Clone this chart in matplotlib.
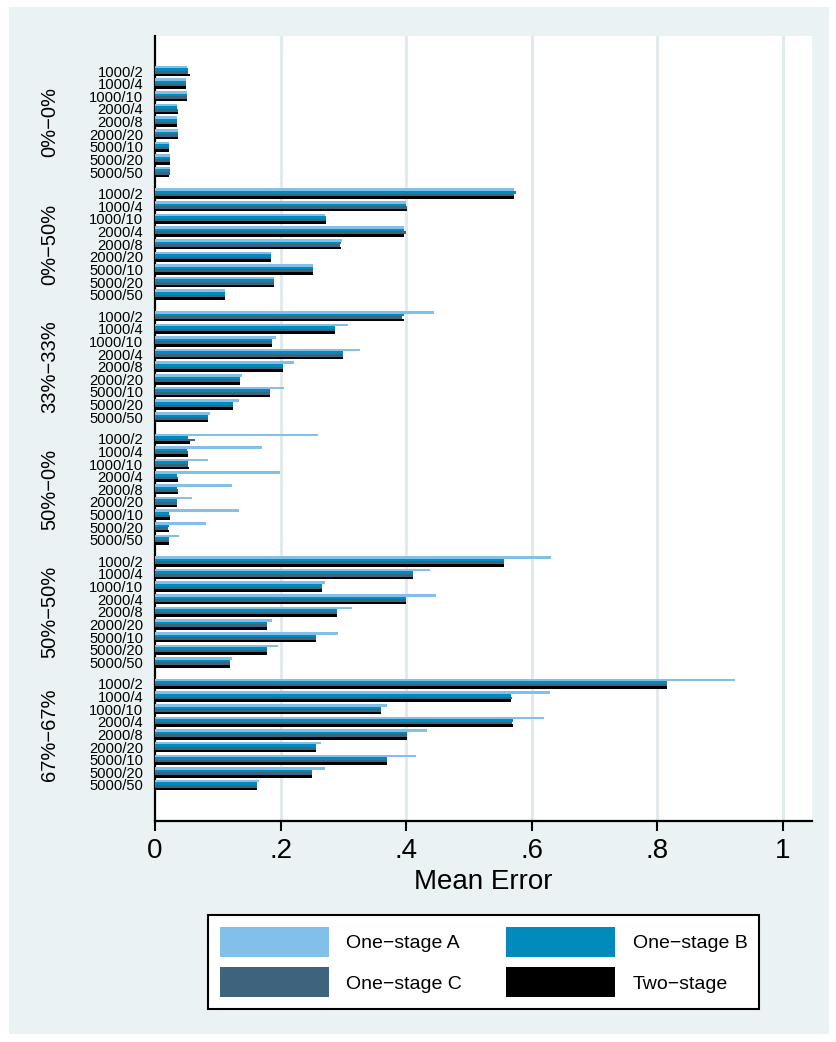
import numpy as np
import matplotlib.pyplot as plt
from matplotlib.patches import Rectangle, Patch
from matplotlib.transforms import blended_transform_factory

plt.rcParams['font.family'] = ['Liberation Sans', 'DejaVu Sans']

# data
groups = ['0%\u22120%', '0%\u221250%', '33%\u221233%', '50%\u22120%', '50%\u221250%', '67%\u221267%']
cats = ['1000/2', '1000/4', '1000/10', '2000/4', '2000/8', '2000/20', '5000/10', '5000/20', '5000/50']
series = ['One\u2212stage A', 'One\u2212stage B', 'One\u2212stage C', 'Two\u2212stage']

one_a = [[.051, .049, .051, .035, .035, .036, .022, .024, .024],
         [.572, .400, .271, .397, .297, .184, .251, .189, .112],
         [.444, .308, .192, .326, .222, .138, .205, .133, .087],
         [.259, .170, .084, .199, .122, .059, .133, .081, .038],
         [.631, .438, .271, .448, .313, .186, .292, .196, .122],
         [.924, .629, .369, .619, .433, .265, .415, .271, .165]]
one_b = [[.052, .049, .051, .035, .035, .036, .022, .024, .024],
         [.575, .400, .272, .397, .296, .184, .251, .189, .112],
         [.396, .286, .186, .299, .203, .136, .183, .124, .084],
         [.052, .051, .052, .035, .035, .035, .022, .022, .022],
         [.556, .410, .266, .400, .290, .178, .256, .178, .119],
         [.815, .567, .360, .570, .401, .256, .369, .250, .163]]
one_c = [[.052, .049, .051, .036, .035, .036, .022, .024, .024],
         [.572, .402, .272, .400, .294, .184, .252, .189, .112],
         [.393, .286, .186, .299, .203, .136, .183, .124, .084],
         [.063, .052, .052, .036, .036, .035, .024, .021, .022],
         [.555, .410, .266, .400, .290, .178, .256, .178, .119],
         [.815, .568, .360, .568, .401, .256, .369, .250, .163]]
two_stage = [[.055, .049, .051, .036, .035, .036, .022, .024, .023],
             [.572, .402, .272, .397, .296, .184, .251, .189, .112],
             [.396, .286, .186, .299, .203, .136, .183, .124, .084],
             [.056, .052, .054, .036, .036, .035, .024, .022, .022],
             [.555, .410, .266, .400, .290, .178, .256, .178, .119],
             [.815, .567, .360, .570, .401, .256, .369, .250, .163]]

colors = ['#82C0E9', '#008BBC', '#3E647D', '#000000']
bg = '#EAF2F3'

fig = plt.figure(figsize=(8.37, 10.42), dpi=100, facecolor='white')
fig.patches.append(Rectangle((9 / 837, 8 / 1042), 820 / 837, 1027 / 1042,
                             transform=fig.transFigure, facecolor=bg,
                             edgecolor='none', zorder=-10))

ax = fig.add_axes([155 / 837, 1 - 821 / 1042, 657 / 837, 785 / 1042])
ax.set_facecolor('white')

period = 9.7
bh = 0.206
offs = [-1.5 * bh, -0.5 * bh, 0.5 * bh, 1.5 * bh]
ypos = []
ylabs = []
for g in range(len(groups)):
    y = g * period + np.arange(len(cats))
    for k, vals in enumerate([one_a, one_b, one_c, two_stage]):
        ax.barh(y + offs[k], vals[g], height=bh, color=colors[k],
                edgecolor='none', zorder=3)
    ypos.extend(y)
    ylabs.extend(cats)

last = (len(groups) - 1) * period + len(cats) - 1
ax.set_ylim(last + 2.85, -2.77)
ax.set_xlim(0, 1.046)
ax.set_yticks(ypos)
ax.set_yticklabels(ylabs, fontsize=10.6)
ax.tick_params(axis='y', length=0, pad=8.5)
ax.set_xticks([0, .2, .4, .6, .8, 1])
ax.set_xticklabels(['0', '.2', '.4', '.6', '.8', '1'], fontsize=20)
ax.tick_params(axis='x', length=7, width=1.5, pad=5)
ax.set_xlabel('Mean Error', fontsize=20, labelpad=4)

for x in [.2, .4, .6, .8, 1]:
    ax.axvline(x, color='#E1EBED', lw=2.2, zorder=1)

for s in ['top', 'right']:
    ax.spines[s].set_visible(False)
for s in ['left', 'bottom']:
    ax.spines[s].set_linewidth(1.6)

tr = blended_transform_factory(fig.transFigure, ax.transData)
for g, name in enumerate(groups):
    ax.text(50 / 837, g * period + (len(cats) - 1) / 2, name, transform=tr,
            rotation=90, ha='center', va='center', fontsize=14.5)

handles = [Patch(facecolor=c, edgecolor='none') for c in colors]
order = [0, 2, 1, 3]
leg = fig.legend([handles[i] for i in order], [series[i] for i in order],
                 ncol=2, loc='upper left', mode='expand',
                 bbox_to_anchor=(208 / 837, 1 - 1014 / 1042, 551 / 837, 99 / 1042),
                 fontsize=14, frameon=True, fancybox=False, framealpha=1,
                 handlelength=5.6, handleheight=2.0, handletextpad=0.9,
                 labelspacing=0.55, borderpad=0.6, columnspacing=2.0,
                 borderaxespad=0)
leg.get_frame().set_edgecolor('black')
leg.get_frame().set_linewidth(1.5)
leg.get_frame().set_facecolor('white')

fig.savefig('out.png', dpi=100, facecolor=fig.get_facecolor())
